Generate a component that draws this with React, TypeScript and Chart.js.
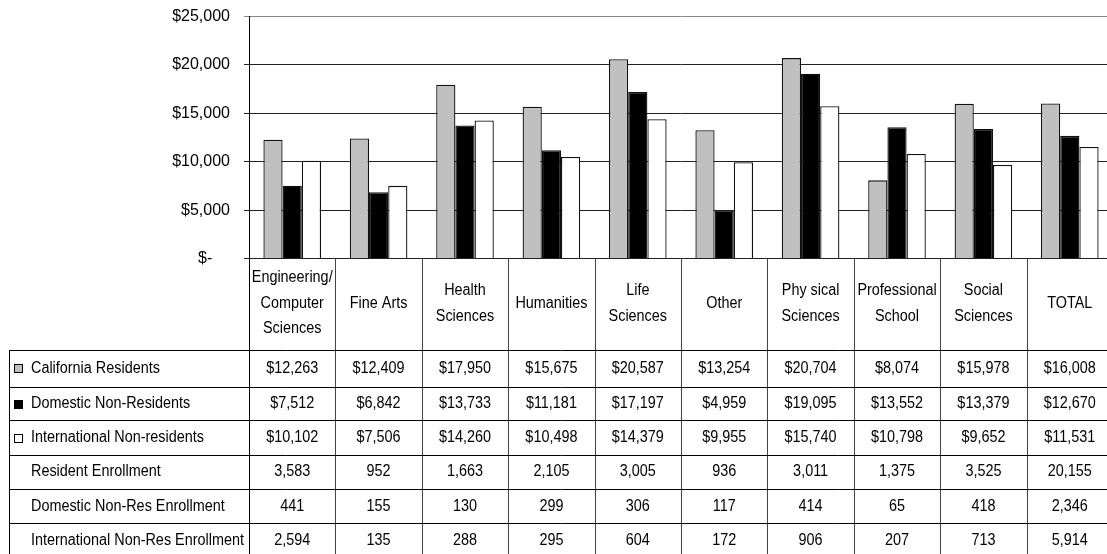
import React, { useEffect, useRef } from 'react';
import { Chart, registerables } from 'chart.js';

Chart.register(...registerables);

const categories: string[][] = [
  ['Engineering/', 'Computer', 'Sciences'],
  ['Fine Arts'],
  ['Health', 'Sciences'],
  ['Humanities'],
  ['Life', 'Sciences'],
  ['Other'],
  ['Phy sical', 'Sciences'],
  ['Professional', 'School'],
  ['Social', 'Sciences'],
  ['TOTAL'],
];

const seriesNames = ['California Residents', 'Domestic Non-Residents', 'International Non-residents'];
const seriesColors = ['#C0C0C0', '#000000', '#FFFFFF'];

const californiaResidents = [12263, 12409, 17950, 15675, 20587, 13254, 20704, 8074, 15978, 16008];
const domesticNonResidents = [7512, 6842, 13733, 11181, 17197, 4959, 19095, 13552, 13379, 12670];
const internationalNonResidents = [10102, 7506, 14260, 10498, 14379, 9955, 15740, 10798, 9652, 11531];

const enrollmentNames = ['Resident Enrollment', 'Domestic Non-Res Enrollment', 'International Non-Res Enrollment'];
const residentEnrollment = [3583, 952, 1663, 2105, 3005, 936, 3011, 1375, 3525, 20155];
const domesticNonResEnrollment = [441, 155, 130, 299, 306, 117, 414, 65, 418, 2346];
const internationalNonResEnrollment = [2594, 135, 288, 295, 604, 172, 906, 207, 713, 5914];

const yMin = 0;
const yMax = 25000;
const yStep = 5000;

const FONT_FAMILY = '"Liberation Sans", Arial, sans-serif';

const fmtMoney = (v: number) => '$' + v.toLocaleString('en-US');
const fmtNum = (v: number) => v.toLocaleString('en-US');

function drawText(ctx: CanvasRenderingContext2D, s: string, x: number, y: number, align: CanvasTextAlign) {
  ctx.save();
  ctx.translate(x, y);
  ctx.scale(0.9, 1);
  ctx.textAlign = align;
  ctx.textBaseline = 'middle';
  ctx.fillText(s, 0, 0);
  ctx.restore();
}

const tablePlugin = {
  id: 'dataTable',
  afterDraw(chart: any) {
    const { ctx, chartArea, scales } = chart;
    const xs = scales.x;
    const n = categories.length;
    const step = xs.getPixelForValue(1) - xs.getPixelForValue(0);
    const edge = (i: number) => xs.getPixelForValue(0) - step / 2 + i * step;
    const top = chartArea.bottom;
    const H = chart.height;
    const W = chart.width;
    const tableLeft = 9;
    const headerBottom = 350;
    const rowHeights = [36.6, 33.8, 34.3, 34.3, 34.3, 34.3];

    const rows: { name: string; values: string[]; key?: string }[] = [
      { name: seriesNames[0], values: californiaResidents.map(fmtMoney), key: seriesColors[0] },
      { name: seriesNames[1], values: domesticNonResidents.map(fmtMoney), key: seriesColors[1] },
      { name: seriesNames[2], values: internationalNonResidents.map(fmtMoney), key: seriesColors[2] },
      { name: enrollmentNames[0], values: residentEnrollment.map(fmtNum) },
      { name: enrollmentNames[1], values: domesticNonResEnrollment.map(fmtNum) },
      { name: enrollmentNames[2], values: internationalNonResEnrollment.map(fmtNum) },
    ];

    ctx.save();
    ctx.lineWidth = 1;
    ctx.strokeStyle = '#444';
    for (let i = 1; i <= n; i++) {
      const x = Math.round(edge(i)) + 0.5;
      ctx.beginPath();
      ctx.moveTo(x, top);
      ctx.lineTo(x, H);
      ctx.stroke();
    }
    ctx.strokeStyle = '#000';
    const xl = Math.round(edge(0)) + 0.5;
    ctx.beginPath();
    ctx.moveTo(xl, top);
    ctx.lineTo(xl, H);
    ctx.stroke();
    ctx.beginPath();
    ctx.moveTo(tableLeft + 0.5, headerBottom);
    ctx.lineTo(tableLeft + 0.5, H);
    ctx.stroke();

    const rowTops: number[] = [];
    let y = headerBottom;
    for (let r = 0; r < rows.length; r++) {
      rowTops.push(y);
      const yy = Math.round(y) + 0.5;
      ctx.strokeStyle = '#000';
      ctx.beginPath();
      ctx.moveTo(tableLeft, yy);
      ctx.lineTo(W, yy);
      ctx.stroke();
      y += rowHeights[r];
    }

    ctx.fillStyle = '#000';
    ctx.font = '16px ' + FONT_FAMILY;

    const lineH = 25.7;
    const headerMid = (top + headerBottom) / 2 - 1;
    categories.forEach((lines, i) => {
      const cx = xs.getPixelForValue(i);
      const y0 = headerMid - ((lines.length - 1) * lineH) / 2;
      lines.forEach((ln, k) => drawText(ctx, ln, cx, y0 + k * lineH, 'center'));
    });

    rows.forEach((row, r) => {
      const cy = rowTops[r] + rowHeights[r] / 2;
      if (row.key) {
        ctx.fillStyle = row.key;
        ctx.fillRect(14, Math.round(cy - 4), 9, 9);
        ctx.strokeStyle = '#000';
        ctx.strokeRect(14.5, Math.round(cy - 4) + 0.5, 8, 8);
      }
      ctx.fillStyle = '#000';
      drawText(ctx, row.name, 31, cy, 'left');
      row.values.forEach((v, i) => drawText(ctx, v, xs.getPixelForValue(i), cy, 'center'));
    });
    ctx.restore();
  },
};

export default function App() {
  const canvasRef = useRef<HTMLCanvasElement | null>(null);

  useEffect(() => {
    const canvas = canvasRef.current;
    if (!canvas) return;
    const chart = new Chart(canvas, {
      type: 'bar',
      data: {
        labels: categories.map((c) => c.join(' ')),
        datasets: [
          { label: seriesNames[0], data: californiaResidents, backgroundColor: seriesColors[0] },
          { label: seriesNames[1], data: domesticNonResidents, backgroundColor: seriesColors[1] },
          { label: seriesNames[2], data: internationalNonResidents, backgroundColor: seriesColors[2] },
        ].map((d) => ({
          ...d,
          borderColor: '#111',
          borderWidth: 1.3,
          categoryPercentage: 2 / 3,
          barPercentage: 1,
        })),
      },
      options: {
        responsive: false,
        animation: false,
        layout: { padding: { left: 0, right: 1, top: 16.5, bottom: 295.5 } },
        plugins: { legend: { display: false }, tooltip: { enabled: false } },
        scales: {
          x: { display: false, grid: { display: false } },
          y: {
            min: yMin,
            max: yMax,
            ticks: {
              stepSize: yStep,
              color: '#000',
              padding: 14,
              font: { family: FONT_FAMILY, size: 16 },
              callback: (v: any) => (Number(v) === 0 ? '$-    ' : fmtMoney(Number(v))),
            },
            grid: {
              color: (c: any) => (c.tick && c.tick.value === yMax ? '#888' : '#222'),
              tickLength: 5,
              lineWidth: 1,
            },
            border: { color: '#000', width: 1 },
            afterFit: (s: any) => {
              s.width = 249;
              s.paddingTop = 0;
              s.paddingBottom = 0;
            },
          },
        },
      },
      plugins: [tablePlugin],
    } as any);
    return () => chart.destroy();
  }, []);

  return (
    <div
      style={{
        position: 'fixed',
        left: 0,
        top: 0,
        width: 1107,
        height: 554,
        overflow: 'hidden',
        background: '#fff',
      }}
    >
      <canvas ref={canvasRef} width={1114} height={554} style={{ display: 'block', width: 1114, height: 554 }} />
    </div>
  );
}
